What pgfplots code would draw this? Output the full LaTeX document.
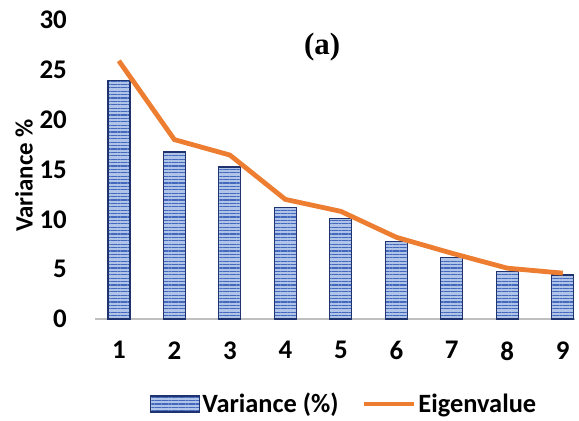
\documentclass[border=0pt]{standalone}
\usepackage{pgfplots}
\pgfplotsset{compat=1.18}
\usepackage{fontspec}
\setmainfont{Carlito}
\newfontfamily\timesfont{Liberation Serif}
\usetikzlibrary{patterns.meta,calc}
\definecolor{barfill}{RGB}{176,196,232}
\definecolor{barline}{RGB}{68,104,190}
\definecolor{barborder}{RGB}{31,52,110}
\definecolor{eig}{RGB}{237,125,49}
\definecolor{axgray}{RGB}{191,191,191}
\pgfplotsset{
  barleg/.style={legend image code/.code={\draw[##1] (0bp,-8bp) rectangle (49bp,8bp);}},
  lineleg/.style={legend image code/.code={\draw[##1] (0bp,0bp) -- (50bp,0bp);}},
}
\begin{document}
\begin{tikzpicture}
\begin{axis}[
  name=ax,
  scale only axis,
  width=480bp, height=299bp,
  xmin=0.57, xmax=9.22,
  ymin=0, ymax=30,
  xtick={1,...,9},
  ytick={0,5,...,30},
  major tick length=0pt,
  axis x line*=bottom,
  axis y line*=left,
  y axis line style={draw=none},
  x axis line style={axgray, line width=2.5bp},
  font=\fontsize{27}{31}\selectfont\bfseries,
  /pgf/number format/assume math mode=true,
  tick label style={font=\fontsize{27}{31}\selectfont\bfseries},
  yticklabel style={anchor=east, inner sep=0pt, xshift=-28bp},
  xticklabel style={yshift=-19bp},
  ylabel={Variance \%},
  y label style={at={(axis description cs:-0.148,0.48)}, anchor=center, font=\fontsize{25}{29}\selectfont\bfseries},
  clip=false,
  legend columns=2,
  legend cell align=left,
  legend style={draw=none, fill=none, at={(axis description cs:0.519,-0.284)}, anchor=center,
    font=\fontsize{26.5}{30}\selectfont\bfseries,
    /tikz/every even column/.append style={column sep=21bp}},
]
\addplot[ybar, bar width=22bp, draw=barborder, line width=1.3bp, fill=barfill,
  postaction={pattern={Lines[angle=0, distance=3.4bp, line width=1.1bp]}, pattern color=barline},
  barleg]
coordinates {(1,23.9) (2,16.75) (3,15.25) (4,11.2) (5,10.1) (6,7.8) (7,6.2) (8,4.8) (9,4.4)};
\addlegendentry{Variance (\%)}
\addplot[eig, line width=4.8bp, sharp plot, no marks, lineleg]
coordinates {(1,25.9) (2,18.0) (3,16.45) (4,12.0) (5,10.8) (6,8.2) (7,6.6) (8,5.1) (9,4.6)};
\addlegendentry{Eigenvalue}
\node[font=\fontsize{31}{35}\selectfont\timesfont\bfseries] at (axis description cs:0.473,0.91) {(a)};
\end{axis}
\path ($(ax.south west)+(-95bp,-102bp)$) rectangle ($(ax.north east)+(4bp,20bp)$);
\end{tikzpicture}
\end{document}
